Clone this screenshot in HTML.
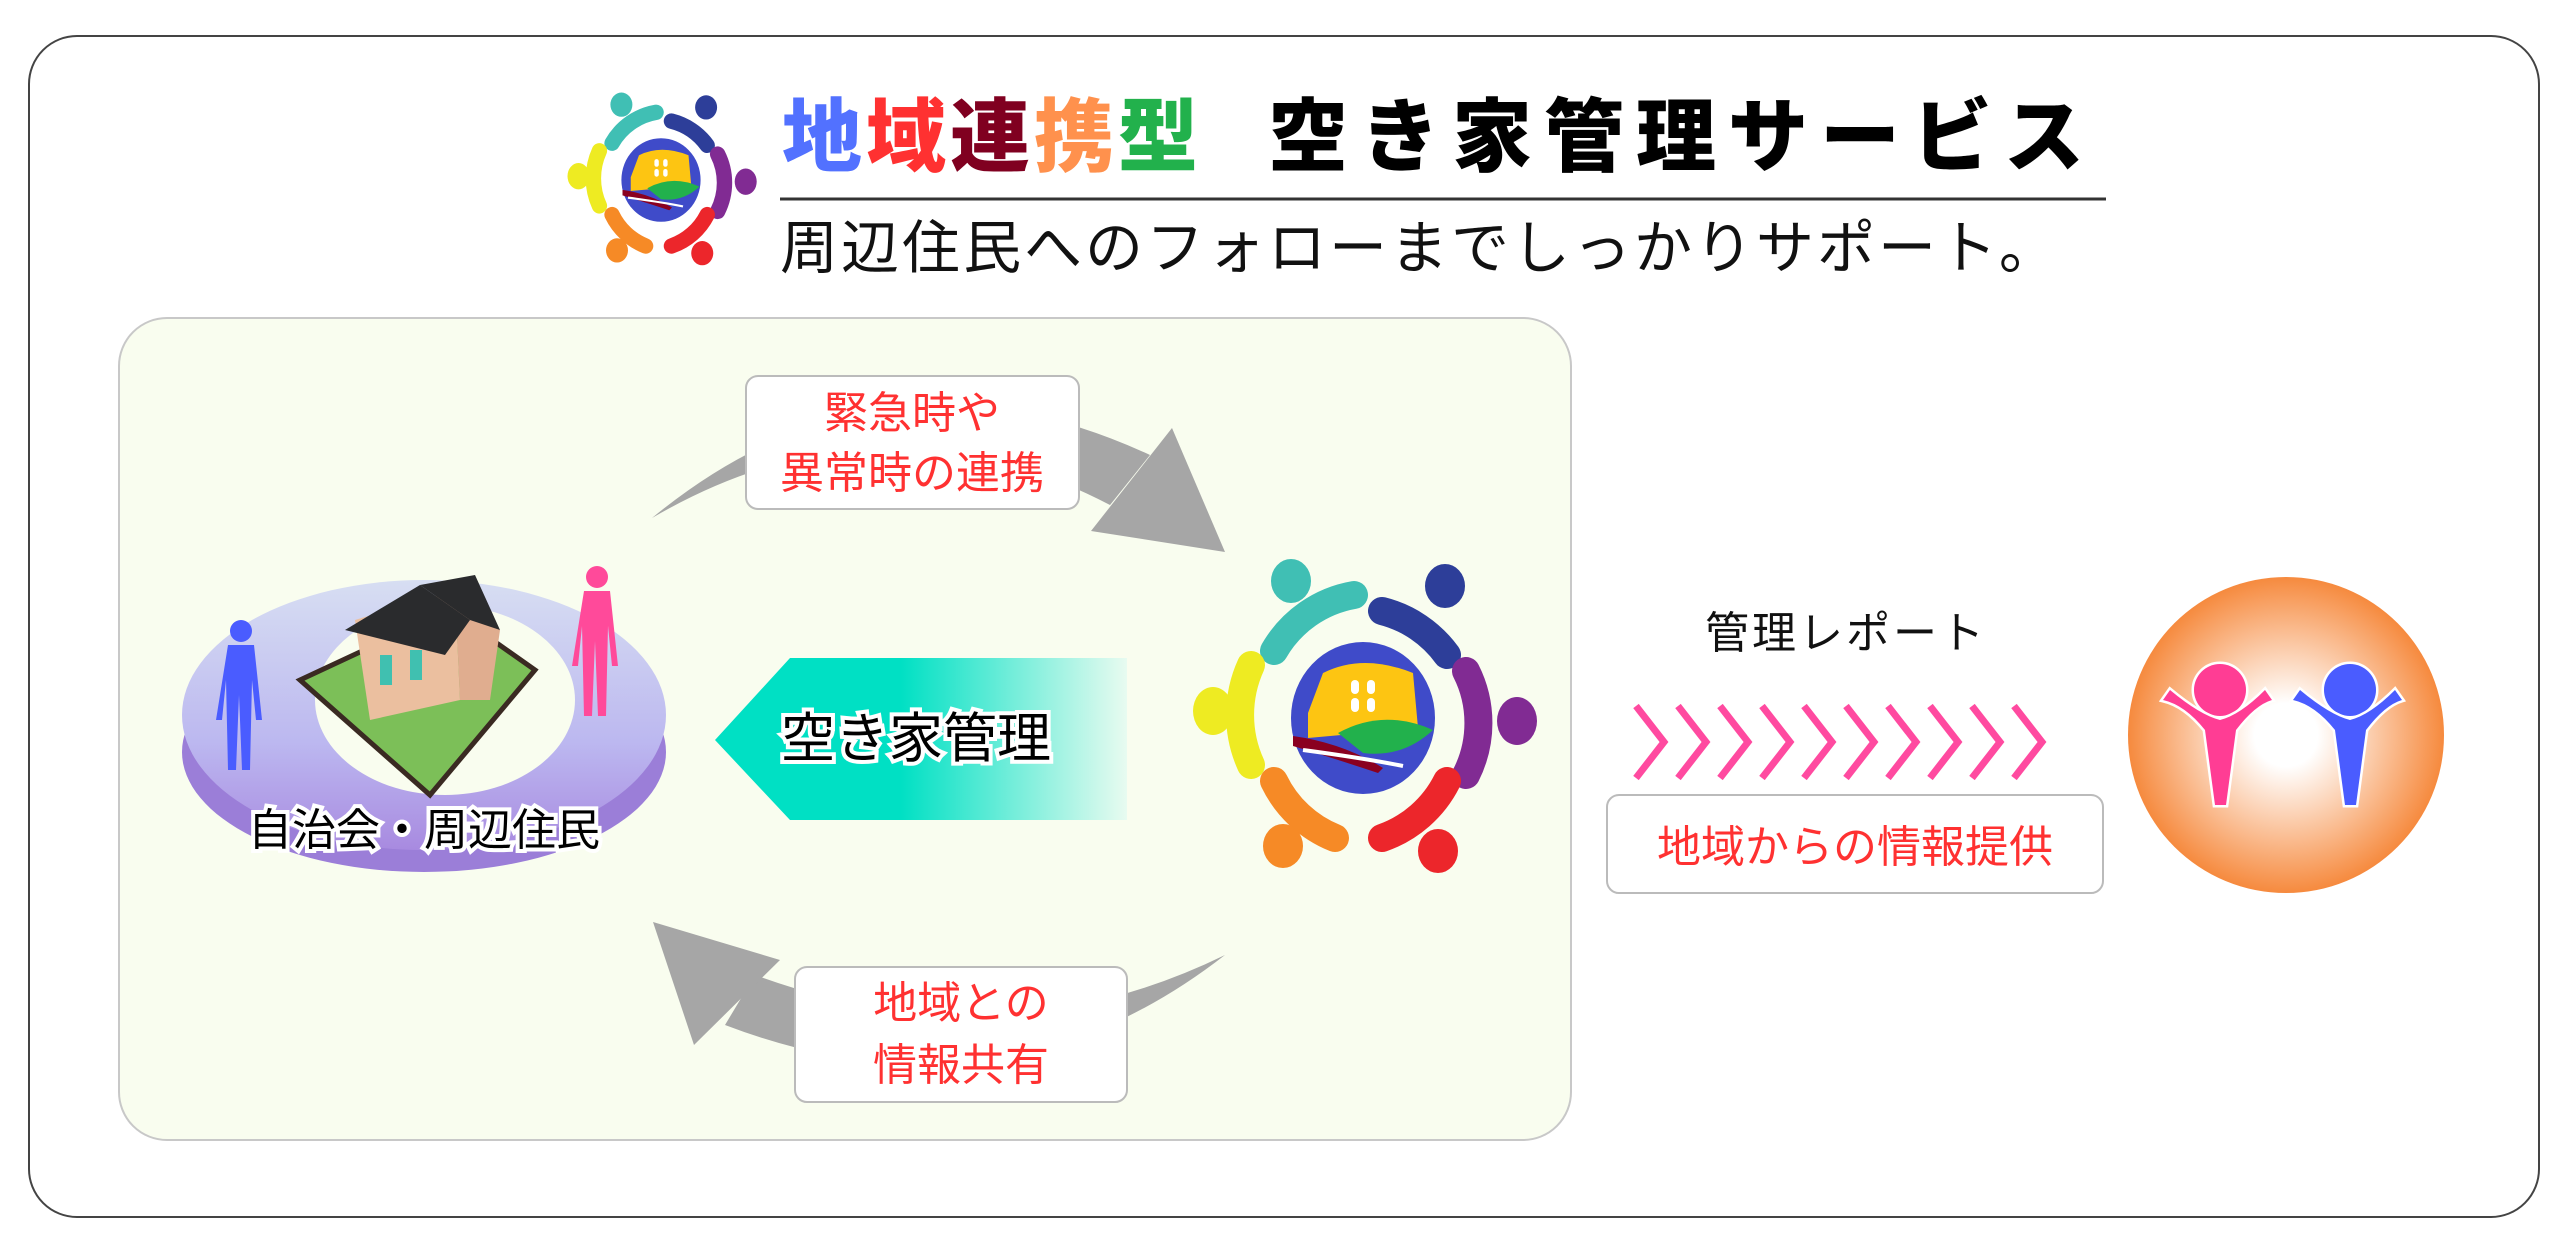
<!DOCTYPE html>
<html><head><meta charset="utf-8"><style>
html,body{margin:0;padding:0;background:#fff;}
svg{display:block;}
text{font-family:"Liberation Sans","Noto Sans CJK JP",sans-serif;}
</style></head><body>
<svg width="2560" height="1241" viewBox="0 0 2560 1241" xmlns="http://www.w3.org/2000/svg">
<defs>
<linearGradient id="teal" x1="0" x2="1" y1="0" y2="0">
<stop offset="0" stop-color="#00e0c4"/><stop offset="0.45" stop-color="#00e0c4"/><stop offset="1" stop-color="#e8fbf0"/></linearGradient>
<radialGradient id="org" cx="0.5" cy="0.5" r="0.5">
<stop offset="0.2" stop-color="#ffffff"/><stop offset="1" stop-color="#f68a3e"/></radialGradient>
<linearGradient id="ring" x1="0" x2="0" y1="0" y2="1">
<stop offset="0" stop-color="#d7def2"/><stop offset="0.6" stop-color="#bcb8f0"/><stop offset="1" stop-color="#a88ae0"/></linearGradient>
<g id="logo">
<g fill="none" stroke-width="28" stroke-linecap="round">
<path d="M-89,-67 A115,115 0 0 1 -9,-123" stroke="#40bfb4"/>
<path d="M19,-107 A115,115 0 0 1 84,-63" stroke="#2d3e99"/>
<path d="M-112,-53 A120,120 0 0 0 -112,47" stroke="#eeeb22"/>
<path d="M103,-47 A115,115 0 0 1 103,57" stroke="#812b93"/>
<path d="M-89,63 A115,115 0 0 0 -28,120" stroke="#f68a26"/>
<path d="M84,63 A115,115 0 0 1 19,120" stroke="#ec262b"/>
</g>
<ellipse cx="-72" cy="-137" rx="20" ry="22" fill="#40bfb4"/>
<ellipse cx="82" cy="-132" rx="20" ry="22" fill="#2d3e99"/>
<ellipse cx="-150" cy="-7" rx="20" ry="24" fill="#eeeb22"/>
<ellipse cx="154" cy="3" rx="20" ry="24" fill="#812b93"/>
<ellipse cx="-80" cy="128" rx="20" ry="22" fill="#f68a26"/>
<ellipse cx="75" cy="133" rx="20" ry="22" fill="#ec262b"/>
<ellipse cx="0" cy="0" rx="72" ry="76" fill="#3f4bc9"/>
<path d="M-55,-5 L-40,-45 Q0,-65 50,-45 L55,10 L-55,20Z" fill="#fdc512"/>
<rect x="-12" y="-38" width="8" height="14" rx="4" fill="#fff"/><rect x="4" y="-38" width="8" height="14" rx="4" fill="#fff"/>
<rect x="-12" y="-20" width="8" height="14" rx="4" fill="#fff"/><rect x="4" y="-20" width="8" height="14" rx="4" fill="#fff"/>
<path d="M-25,15 Q20,-10 70,12 Q40,40 0,35Z" fill="#22b14c"/>
<path d="M-70,18 Q-20,25 20,50 L15,55 Q-30,40 -70,28Z" fill="#8a0020"/>
<path d="M-60,32 Q0,40 40,48" stroke="#fff" stroke-width="4" fill="none"/>
</g>
</defs>
<rect x="29" y="36" width="2510" height="1181" rx="48" fill="#fff" stroke="#444" stroke-width="2"/>
<!-- title -->
<use href="#logo" transform="translate(661,180) scale(0.55)"/>
<g font-weight="900" font-size="80" font-family="'Noto Sans CJK JP',sans-serif">
<text x="782" y="165" fill="#5271ff">地</text>
<text x="866" y="165" fill="#ff3131">域</text>
<text x="950" y="165" fill="#800020">連</text>
<text x="1034" y="165" fill="#ff914d">携</text>
<text x="1118" y="165" fill="#22b14c">型</text>
<text x="1268" y="165" fill="#000" letter-spacing="12">空き家管理サービス</text>
</g>
<line x1="780" y1="199" x2="2106" y2="199" stroke="#333" stroke-width="3"/>
<text x="780" y="268" font-size="58" fill="#111" letter-spacing="3">周辺住民へのフォローまでしっかりサポート。</text>
<!-- panel -->
<rect x="119" y="318" width="1452" height="822" rx="48" fill="#f9fdef" stroke="#c8c8c8" stroke-width="2"/>
<!-- gray arrows -->
<path d="M652,518 Q880,330 1150,455 L1110,505 Q880,385 652,518Z" fill="#a6a6a6"/>
<polygon points="1172,428 1225,552 1091,531" fill="#a6a6a6"/>
<path d="M1225,955 Q1000,1130 725,1025 L755,975 Q1000,1065 1225,955Z" fill="#a6a6a6"/>
<polygon points="653,922 780,960 694,1045" fill="#a6a6a6"/>
<!-- label boxes -->
<rect x="746" y="376" width="333" height="133" rx="12" fill="#fff" stroke="#bbb" stroke-width="2"/>
<text x="912" y="428" font-size="44" fill="#ff3131" text-anchor="middle">緊急時や</text>
<text x="912" y="488" font-size="44" fill="#ff3131" text-anchor="middle">異常時の連携</text>
<rect x="795" y="967" width="332" height="135" rx="12" fill="#fff" stroke="#bbb" stroke-width="2"/>
<text x="961" y="1018" font-size="44" fill="#ff3131" text-anchor="middle">地域との</text>
<text x="961" y="1080" font-size="44" fill="#ff3131" text-anchor="middle">情報共有</text>
<!-- teal arrow -->
<polygon points="1127,658 790,658 715,740 790,820 1127,820" fill="url(#teal)"/>
<text x="916" y="757" font-size="54" fill="#000" stroke="#fff" stroke-width="8" paint-order="stroke" text-anchor="middle">空き家管理</text>
<!-- ring -->
<ellipse cx="424" cy="752" rx="242" ry="120" fill="#9b7ed8"/>
<ellipse cx="424" cy="715" rx="242" ry="135" fill="url(#ring)"/>
<ellipse cx="445" cy="700" rx="130" ry="95" fill="#f9fdef"/>
<polygon points="300,680 450,610 535,670 430,795" fill="#7cbf58" stroke="#3a2a22" stroke-width="5"/>
<polygon points="355,620 455,590 460,700 370,720" fill="#ebbf9f"/>
<polygon points="455,590 500,630 490,700 460,700" fill="#e0ad8f"/>
<polygon points="345,630 420,585 470,620 445,655" fill="#2a2b2d"/>
<polygon points="420,585 475,575 500,630 470,620" fill="#2a2b2d"/>
<rect x="380" y="655" width="12" height="30" fill="#40c0b0"/><rect x="410" y="650" width="12" height="30" fill="#40c0b0"/>
<!-- people -->
<g fill="#4a5cff"><circle cx="241" cy="631" r="11"/><path d="M228,645 h26 l8,75 h-6 l-4,-40 l-2,90 h-8 l-3,-75 l-3,75 h-8 l-2,-90 l-4,40 h-6z"/></g>
<g fill="#ff4a9a"><circle cx="597" cy="577" r="11"/><path d="M584,591 h26 l8,75 h-6 l-4,-40 l-2,90 h-8 l-3,-75 l-3,75 h-8 l-2,-90 l-4,40 h-6z"/></g>
<text x="424" y="845" font-size="44" fill="#000" stroke="#fff" stroke-width="8" paint-order="stroke" text-anchor="middle">自治会・周辺住民</text>
<!-- center logo -->
<use href="#logo" transform="translate(1363,718)"/>
<!-- right side -->
<text x="1846" y="648" font-size="44" fill="#111" text-anchor="middle" letter-spacing="3">管理レポート</text>
<g fill="none" stroke="#ff4aa0" stroke-width="7">
<path d="M1636,706 l28,36 l-28,36"/><path d="M1678,706 l28,36 l-28,36"/><path d="M1720,706 l28,36 l-28,36"/><path d="M1762,706 l28,36 l-28,36"/><path d="M1804,706 l28,36 l-28,36"/><path d="M1846,706 l28,36 l-28,36"/><path d="M1888,706 l28,36 l-28,36"/><path d="M1930,706 l28,36 l-28,36"/><path d="M1972,706 l28,36 l-28,36"/><path d="M2014,706 l28,36 l-28,36"/>
</g>
<rect x="1607" y="795" width="496" height="98" rx="12" fill="#fff" stroke="#bbb" stroke-width="2"/>
<text x="1855" y="862" font-size="44" fill="#ff3131" text-anchor="middle">地域からの情報提供</text>
<circle cx="2286" cy="735" r="158" fill="url(#org)"/>
<g stroke="#fff" stroke-width="5" paint-order="stroke">
<circle cx="2220" cy="690" r="26" fill="#ff3d94"/>
<path d="M2163,700 Q2185,705 2205,730 L2215,805 L2226,805 L2236,730 Q2255,705 2272,700 L2265,690 Q2240,715 2220,720 Q2200,715 2170,690Z" fill="#ff3d94"/>
<circle cx="2350" cy="690" r="26" fill="#4a5cff"/>
<path d="M2293,700 Q2315,705 2335,730 L2345,805 L2356,805 L2366,730 Q2385,705 2402,700 L2395,690 Q2370,715 2350,720 Q2330,715 2300,690Z" fill="#4a5cff"/>
</g>
</svg>
</body></html>
